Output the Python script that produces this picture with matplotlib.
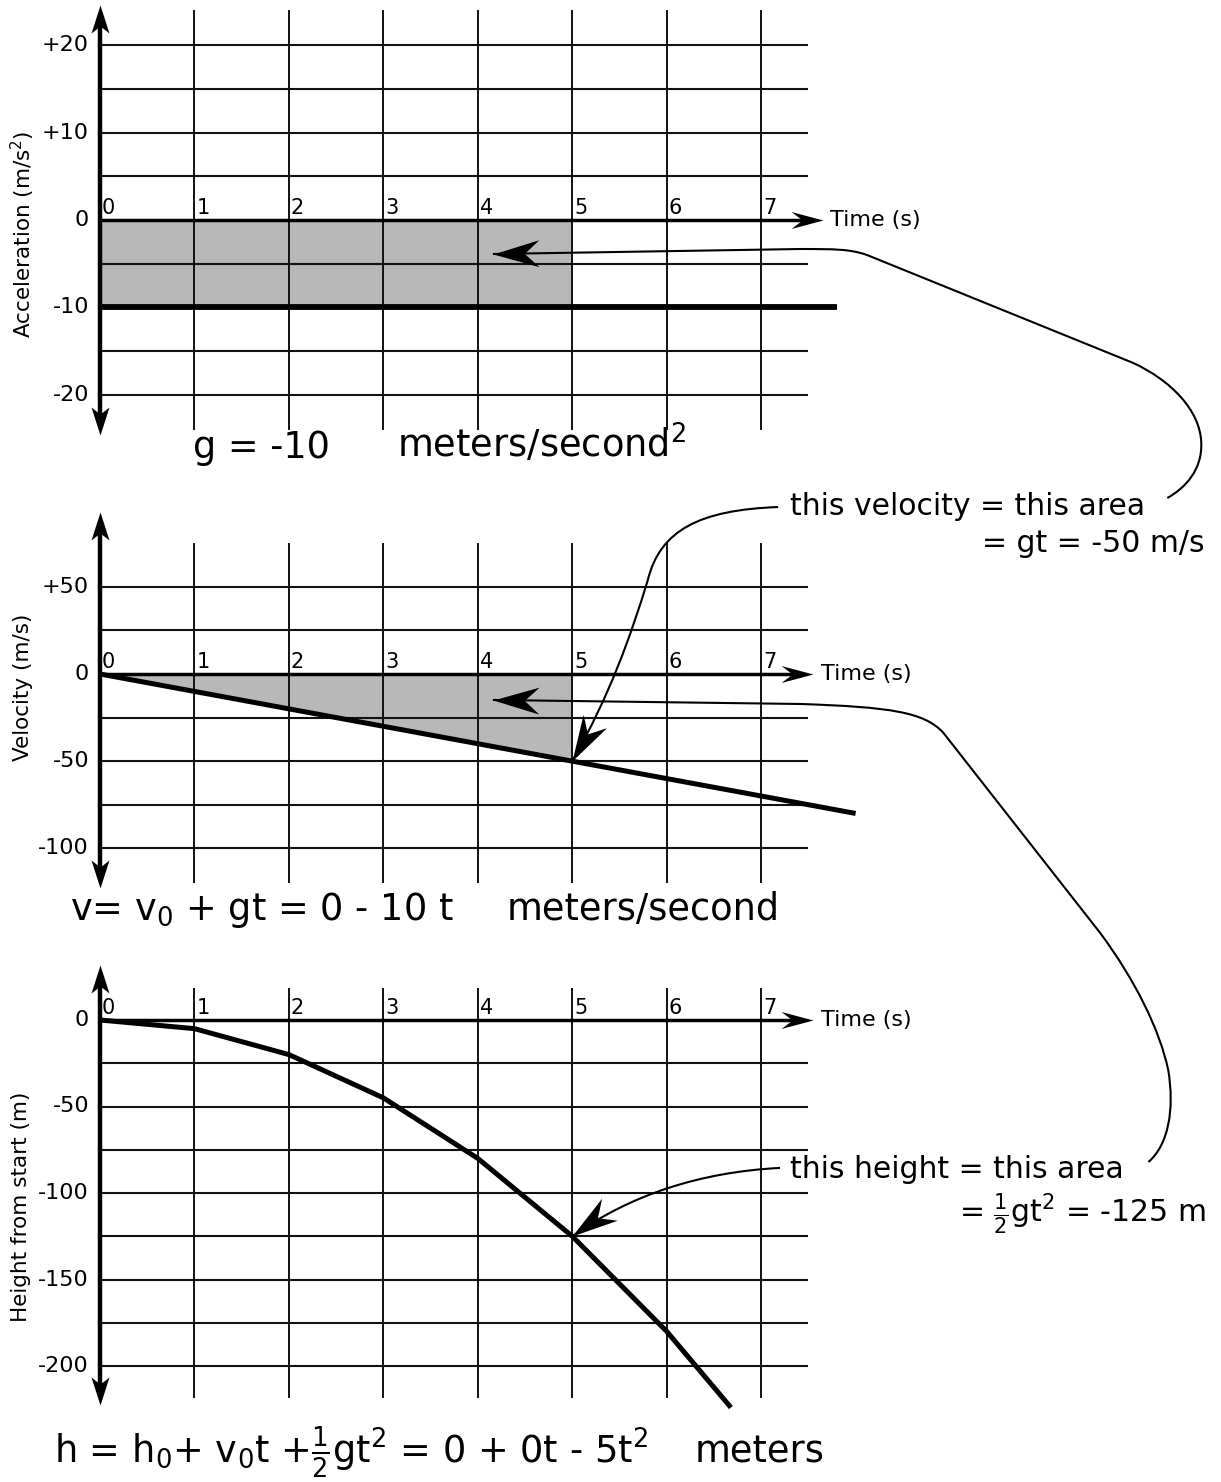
import numpy as np
import matplotlib
matplotlib.use('Agg')
import matplotlib.pyplot as plt
from matplotlib.path import Path
from matplotlib.patches import PathPatch
from matplotlib.markers import MarkerStyle
from matplotlib.transforms import Affine2D, offset_copy

plt.rcParams['font.family'] = ['DejaVu Sans']
plt.rcParams['mathtext.fontset'] = 'dejavusans'

W, H = 1221, 1482

# shared time axis
time_ticks = [0, 1, 2, 3, 4, 5, 6, 7]
grid_t_end = 7.5

# acceleration panel
acc_ticks = [20, 10, 0, -10, -20]
acc_labels = ['+20', '+10', '0', '-10', '-20']
acc_grid = [20, 15, 10, 5, -5, -15, -20]
acc_t = [0, 7.8]
acc_a = [-10, -10]
acc_area_t = [0, 5]
acc_area_a = [-10, -10]

# velocity panel
vel_ticks = [50, 0, -50, -100]
vel_labels = ['+50', '0', '-50', '-100']
vel_grid = [50, 25, -25, -50, -75, -100]
vel_t = [0, 8]
vel_v = [0, -80]
vel_area_t = [0, 5]
vel_area_v = [0, -50]

# height panel
hgt_ticks = [0, -50, -100, -150, -200]
hgt_labels = ['0', '-50', '-100', '-150', '-200']
hgt_grid = [-25, -50, -75, -100, -125, -150, -175, -200]
hgt_t = [0, 1, 2, 3, 4, 5, 6, 6.68]
hgt_h = [0, -5, -20, -45, -80, -125, -180, -224]

# leader curves (in the data units of the panel they belong to)
M, C, L = Path.MOVETO, Path.CURVE4, Path.LINETO
lead_acc = [(11.30, -31.81), (11.49, -30.66), (11.67, -28.60), (11.66, -25.51),
            (11.65, -21.74), (11.33, -18.31), (10.94, -16.36), (8.12, -4.00),
            (7.94, -3.32), (7.78, -3.32), (7.41, -3.32), (4.16, -3.89)]
lead_acc_codes = [M, C, C, C, C, C, C, L, C, C, C, L]
lead_vel = [(7.18, 95.8), (6.35, 94.1), (5.93, 82.6), (5.80, 53.9),
            (5.62, 22.0), (5.40, -12.0), (5.0, -50.0)]
lead_vel_codes = [M, C, C, C, C, C, C]
lead_area2 = [(11.10, -280.0), (11.31, -270.2), (11.38, -250.1), (11.31, -227.2),
              (11.22, -204.2), (10.96, -175.6), (10.59, -148.6), (8.93, -33.8),
              (8.73, -21.8), (8.36, -18.9), (7.41, -17.2), (4.16, -14.9)]
lead_area2_codes = [M, C, C, C, C, C, C, L, C, C, C, L]
lead_hgt = [(7.20, -85.5), (6.35, -87.9), (5.61, -101.2), (5.0, -125.0)]
lead_hgt_codes = [M, C, C, C]

T0_PX, PX_PER_S = 100, 94.45
GRID = '#111111'
FILL = '#b8b8b8'

fig = plt.figure(figsize=(W / 100, H / 100), dpi=100)


def panel(top_px, bot_px, zero_px, px_per_unit):
    ax = fig.add_axes([0, 1 - bot_px / H, 1, (bot_px - top_px) / H])
    ax.set_xlim(-T0_PX / PX_PER_S, (W - T0_PX) / PX_PER_S)
    ax.set_ylim((zero_px - bot_px) / px_per_unit, (zero_px - top_px) / px_per_unit)
    ax.axis('off')
    ax.patch.set_visible(False)
    return ax


def head(ax, p_from, p_tip, length, width, notch):
    a = ax.transData.transform(p_from)
    b = ax.transData.transform(p_tip)
    ang = np.degrees(np.arctan2(b[1] - a[1], b[0] - a[0]))
    w = width / length / 2
    path = Path([(0, 0), (-1, w), (-notch, 0), (-1, -w), (0, 0)],
                [M, L, L, L, Path.CLOSEPOLY])
    m = MarkerStyle(path, transform=Affine2D().rotate_deg(ang))
    ax.plot([p_tip[0]], [p_tip[1]], marker=m, ms=2 * length * 0.72, color='k',
            mew=0, ls='none', clip_on=False, zorder=6)


def arrow_line(ax, p0, p1, lw, length, width, notch, both=False):
    d0 = ax.transData.transform(p0)
    d1 = ax.transData.transform(p1)
    u = (d1 - d0) / np.hypot(*(d1 - d0))
    cut = length * notch * 0.8
    a = d0 + u * cut if both else d0
    b = d1 - u * cut
    (x0, y0), (x1, y1) = ax.transData.inverted().transform([a, b])
    ax.plot([x0, x1], [y0, y1], color='k', lw=lw, solid_capstyle='butt',
            zorder=4, clip_on=False)
    head(ax, p0, p1, length, width, notch)
    if both:
        head(ax, p1, p0, length, width, notch)


def leader(ax, verts, codes):
    ax.add_patch(PathPatch(Path(verts, codes), fc='none', ec='k', lw=1.5,
                           zorder=5, clip_on=False))
    head(ax, verts[-2], verts[-1], 46, 27, 0.68)


def frame(ax, hlines, vspan, yspan, x_end, ticks, labels, ylabel, ylabel_xy):
    for y in hlines:
        ax.plot([0, grid_t_end], [y, y], color=GRID, lw=1.5, zorder=2,
                solid_capstyle='butt')
    for t in time_ticks[1:]:
        ax.plot([t, t], vspan, color=GRID, lw=1.4, zorder=2, solid_capstyle='butt')
    arrow_line(ax, (0, 0), (x_end, 0), 2.5, 32, 17, 0.65)
    arrow_line(ax, (0, yspan[0]), (0, yspan[1]), 3.2, 28, 18, 0.75, both=True)
    for y, lab in zip(ticks, labels):
        ax.text(-0.116, y, lab, ha='right', va='center', fontsize=16)
    tr = offset_copy(ax.transData, fig=fig, x=2, y=6, units='dots')
    for t in time_ticks:
        ax.text(t, 0, str(t), transform=tr, ha='left', va='baseline', fontsize=15)
    ax.text(x_end + 0.08, 0, 'Time (s)', ha='left', va='center', fontsize=16)
    ax.text(ylabel_xy[0], ylabel_xy[1], ylabel, rotation=90, ha='center',
            va='center', fontsize=15.5)


# ---- acceleration ----
ax1 = panel(0, 470, 220, 8.74)
ax1.fill_between(acc_area_t, acc_area_a, 0, color=FILL, lw=0, zorder=1)
frame(ax1, acc_grid, [24, -24], [-24.6, 24.6], 7.65, acc_ticks, acc_labels,
      'Acceleration (m/s$^2$)', (-0.815, -1.6))
ax1.plot(acc_t, acc_a, color='k', lw=4.2, solid_capstyle='butt', zorder=3)
ax1.text(0.985, -27.2, 'g = -10', fontsize=26.5, va='baseline')
ax1.text(3.14, -27.2, 'meters/second$^2$', fontsize=26.5, va='baseline')

# ---- velocity ----
ax2 = panel(470, 950, 674, 1.743)
ax2.fill_between(vel_area_t, vel_area_v, 0, color=FILL, lw=0, zorder=1)
frame(ax2, vel_grid, [75, -120], [-123, 93], 7.55, vel_ticks, vel_labels,
      'Velocity (m/s)', (-0.815, -7.7))
ax2.plot(vel_t, vel_v, color='k', lw=3.6, solid_capstyle='butt', zorder=3)
ax2.text(-0.318, -141.1, 'v= v$_0$ + gt = 0 - 10 t', fontsize=26.5, va='baseline')
ax2.text(4.31, -141.1, 'meters/second', fontsize=26.5, va='baseline')
ax2.text(7.31, 91.2, 'this velocity = this area', fontsize=21.5, va='baseline')
ax2.text(11.70, 70.0, '= gt = -50 m/s', fontsize=21.5, va='baseline', ha='right')

# ---- height ----
ax3 = panel(950, 1482, 1020, 1.73)
frame(ax3, hgt_grid, [18.5, -218.5], [-222.5, 31.8], 7.55, hgt_ticks, hgt_labels,
      'Height from start (m)', (-0.836, -108))
ax3.plot(hgt_t, hgt_h, color='k', lw=3.6, solid_capstyle='butt', zorder=3)
ax3.text(-0.487, -256.0, r'h = h$_0$+ v$_0$t +$\frac{1}{2}$gt$^2$ = 0 + 0t - 5t$^2$',
         fontsize=26.5, va='baseline')
ax3.text(6.30, -256.0, 'meters', fontsize=26.5, va='baseline')
ax3.text(7.31, -91.3, 'this height = this area', fontsize=21.5, va='baseline')
ax3.text(11.70, -116.8, r'= $\frac{1}{2}$gt$^2$ = -125 m', fontsize=21.5,
         va='baseline', ha='right')

# ---- leader arrows ----
leader(ax1, lead_acc, lead_acc_codes)
leader(ax2, lead_vel, lead_vel_codes)
leader(ax2, lead_area2, lead_area2_codes)
leader(ax3, lead_hgt, lead_hgt_codes)

fig.savefig('out.png', dpi=100, facecolor='white')
